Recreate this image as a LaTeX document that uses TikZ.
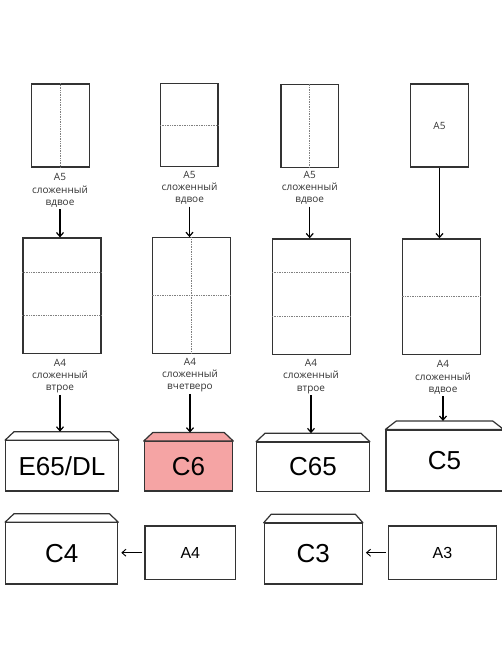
\documentclass[tikz,border=0pt]{standalone}
\usepackage{fontspec}
\setmainfont{Liberation Sans}
\newfontfamily\lblfont{Open Sans}
\usetikzlibrary{arrows.meta,calc,positioning}
\definecolor{pinkenv}{RGB}{245,164,164}
\definecolor{edge}{RGB}{51,51,51}

\tikzset{
  sheet/.style={draw=edge, line width=1.3pt, fill=white, inner sep=0pt,
    minimum width=57.5pt, minimum height=83pt},
  bigsheet/.style={sheet, minimum width=78pt, minimum height=115.5pt},
  fold/.style={gray, line width=0.7pt, densely dotted},
  lbl/.style={align=center, font=\lblfont\fontsize{10}{12.3}\selectfont,
    text=black!80, inner sep=1.5pt},
  env/.style={draw=edge, line width=1.2pt, fill=white, inner sep=0pt,
    font=\fontsize{26}{28}\selectfont},
  paper/.style={draw=edge, line width=1.2pt, inner sep=0pt,
    font=\fontsize{16}{18}\selectfont},
  arr/.style={-{Straight Barb[length=4pt,width=7pt]}, line width=1.2pt},
  thinarr/.style={-{Straight Barb[length=4pt,width=7pt]}, line width=0.9pt,
    shorten <=2pt, shorten >=3pt},
}
% envelope flap on top of a body node
\newcommand{\flap}[3][9]{%
  \draw[draw=edge, line width=1.2pt, fill=#3, line join=round]
    (#2.north west) -- ($(#2.north west)+(#1,-8.5)$)
    -- ($(#2.north east)+(-#1,-8.5)$) -- (#2.north east) -- cycle;
  \coordinate (#2top) at ($(#2.north)+(0,-8.5)$);}

\begin{document}
\begin{tikzpicture}[x=1pt, y=-1pt]
  \useasboundingbox (0,0) rectangle (502,669);

  % top row: A5 sheets
  \node[sheet] (a1) at (60.5,125.5) {};
  \node[sheet] (a2) at (189.3,125) {};
  \node[sheet] (a3) at (309.7,125.8) {};
  \node[sheet, lbl, inner sep=0pt] (a4) at (439.5,125.5) {A5};
  \draw[fold] (a1.north) -- (a1.south);
  \draw[fold] (a2.west) -- (a2.east);
  \draw[fold] (a3.north) -- (a3.south);

  \node[lbl] (t1) at (60,190.5) {A5\\сложенный\\вдвое};
  \node[lbl] (t2) at (189.5,188) {A5\\сложенный\\вдвое};
  \node[lbl] (t3) at (309.7,188) {A5\\сложенный\\вдвое};

  % middle row: A4 sheets
  \node[bigsheet] (b1) at (62,295.8) {};
  \node[bigsheet] (b2) at (191.2,295.5) {};
  \node[bigsheet] (b3) at (311.5,296.7) {};
  \node[bigsheet] (b4) at (441.2,296.7) {};
  \foreach \s in {b1,b3}{
    \draw[fold] ($(\s.north west)!0.295!(\s.south west)$) -- ($(\s.north east)!0.295!(\s.south east)$);
    \draw[fold] ($(\s.north west)!0.67!(\s.south west)$) -- ($(\s.north east)!0.67!(\s.south east)$);
  }
  \draw[fold] (b2.north) -- (b2.south);
  \draw[fold] (b2.west) -- (b2.east);
  \draw[fold] (b4.west) -- (b4.east);

  \draw[arr] (t1.south) -- (t1.south |- b1.north);
  \draw[arr] (t2.south) -- (t2.south |- b2.north);
  \draw[arr] (t3.south) -- (t3.south |- b3.north);
  \draw[arr] (a4.south) -- (a4.south |- b4.north);

  \node[lbl] (u1) at (60,376) {A4\\сложенный\\втрое};
  \node[lbl] (u2) at (190,375) {A4\\сложенный\\вчетверо};
  \node[lbl] (u3) at (311,376.5) {A4\\сложенный\\втрое};
  \node[lbl] (u4) at (443,377.5) {A4\\сложенный\\вдвое};

  % envelopes
  \node[env, minimum width=112.6pt, minimum height=50.3pt] (e1) at (62,465.9) {E65/DL};
  \node[env, fill=pinkenv, minimum width=88.4pt, minimum height=49.3pt] (e2) at (188.5,466.3) {C6};
  \node[env, minimum width=112.6pt, minimum height=49pt] (e3) at (313,466.8) {C65};
  \node[env, minimum width=117pt, minimum height=61pt] (e4) at (444.5,460.5) {C5};
  \flap{e1}{white}
  \flap{e2}{pinkenv}
  \flap{e3}{white}
  \flap[11]{e4}{white}

  \draw[arr] (u1.south) -- (u1.south |- e1top);
  \draw[arr] (u2.south) -- (u2.south |- e2top);
  \draw[arr] (u3.south) -- (u3.south |- e3top);
  \draw[arr] (u4.south) -- (u4.south |- e4top);

  % bottom row: big envelopes and sheets
  \node[env, minimum width=112pt, minimum height=61.3pt] (e5) at (61.7,553.4) {C4};
  \node[env, minimum width=98pt, minimum height=60.7pt] (e6) at (313.3,553.7) {C3};
  \flap{e5}{white}
  \flap[7.5]{e6}{white}
  \node[paper, minimum width=90.7pt, minimum height=53.3pt] (p1) at (190.3,552.7) {A4};
  \node[paper, minimum width=108.4pt, minimum height=53.3pt] (p2) at (442.5,552.7) {A3};

  \draw[thinarr] (p1.west) -- (p1.west -| e5.east);
  \draw[thinarr] (p2.west) -- (p2.west -| e6.east);
\end{tikzpicture}
\end{document}
